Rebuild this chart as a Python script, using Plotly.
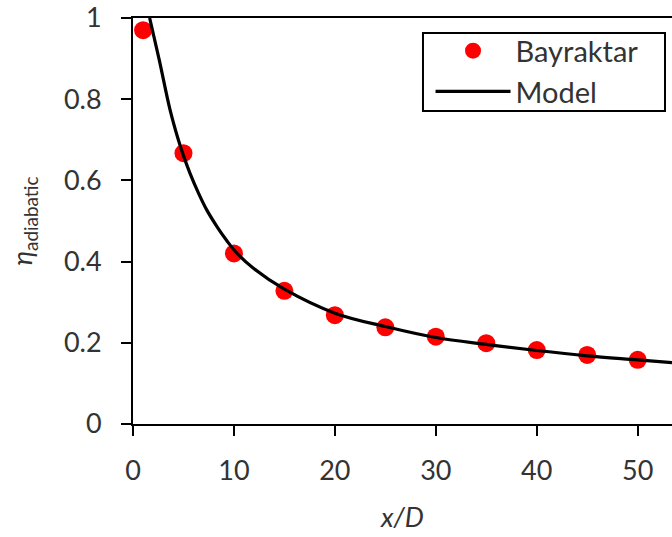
import plotly.graph_objects as go

# Data
bay_x = [1, 5, 10, 15, 20, 25, 30, 35, 40, 45, 50]
bay_y = [0.970, 0.667, 0.420, 0.328, 0.268, 0.238, 0.215, 0.199, 0.182, 0.170, 0.158]

model_x = [1.65, 2.6, 3.66, 4.49, 5.0, 5.64, 6.5, 7.29, 8.3, 9.28, 10.1, 11.9, 15, 20, 25, 30, 35, 40, 45, 50, 53.4]
model_y = [1.0, 0.897, 0.775, 0.700, 0.661, 0.618, 0.568, 0.528, 0.487, 0.452, 0.426, 0.384, 0.332, 0.273, 0.240, 0.213, 0.196, 0.181, 0.168, 0.158, 0.151]

x_ticks = [0, 10, 20, 30, 40, 50]
y_ticks = [0, 0.2, 0.4, 0.6, 0.8, 1]
y_ticktext = ["0", "0.2", "0.4", "0.6", "0.8", "1"]

FONT = "Lato"
TXT = "#333333"

fig = go.Figure()
fig.add_trace(go.Scatter(
    x=bay_x, y=bay_y, mode="markers", name="Bayraktar",
    marker=dict(color="#FF0000", size=18, line=dict(width=0)),
))
fig.add_trace(go.Scatter(
    x=model_x, y=model_y, mode="lines", name="Model",
    line=dict(color="black", width=3.2, shape="spline", smoothing=1.0),
))

# legend frame drawn as a rectangle around the legend
fig.add_shape(type="rect", xref="paper", yref="paper",
              x0=0.538, x1=0.987, y0=0.771, y1=0.963,
              line=dict(color="black", width=2), fillcolor="white", layer="below")

fig.update_layout(
    width=672, height=537,
    margin=dict(l=133, r=0, t=18, b=113),
    paper_bgcolor="white", plot_bgcolor="white",
    font=dict(family=FONT, size=27, color=TXT),
    showlegend=True,
    legend=dict(
        x=0.552, y=0.982, xanchor="left", yanchor="top",
        borderwidth=0, bgcolor="rgba(0,0,0,0)",
        font=dict(family=FONT, size=29, color=TXT),
        itemwidth=75,
    ),
    xaxis=dict(
        range=[0, 53.4], tickvals=x_ticks, ticks="outside", ticklen=10, tickwidth=2,
        tickcolor="black", showline=True, linecolor="black", linewidth=2, mirror=True,
        showgrid=False, zeroline=False, ticklabelstandoff=12,
        title=dict(text="<i>x/D</i>", standoff=23, font=dict(family=FONT, size=27, color=TXT)),
    ),
    yaxis=dict(
        range=[0, 1], tickvals=y_ticks, ticktext=y_ticktext, ticks="outside", ticklen=10,
        tickwidth=2, tickcolor="black", showline=True, linecolor="black", linewidth=2,
        showgrid=False, zeroline=False, ticklabelstandoff=14,
        title=dict(text="<i>η</i><sub>adiabatic</sub>", standoff=23,
                   font=dict(family=FONT, size=27, color=TXT)),
    ),
)

fig.write_html("out.html")
